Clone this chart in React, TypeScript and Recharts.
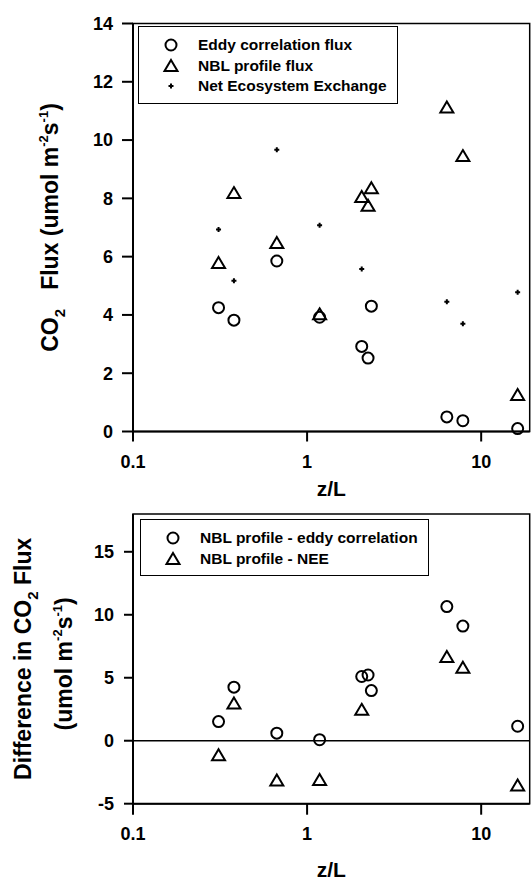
import React from "react";
import {
  ScatterChart,
  Scatter,
  XAxis,
  YAxis,
  ReferenceArea,
  ReferenceLine,
  Label,
  Legend,
} from "recharts";

// z/L of each run (shared by the flux series)
const zL = [0.31, 0.38, 0.67, 1.18, 2.06, 2.24, 2.34, 6.35, 7.85, 16.2];
const eddyFlux = [4.25, 3.82, 5.85, 3.92, 2.92, 2.52, 4.3, 0.5, 0.37, 0.1];
const nblFlux = [5.78, 8.18, 6.47, 4.02, 8.05, 7.75, 8.35, 11.12, 9.45, 1.25];

// NEE only exists for some runs
const neeZL = [0.31, 0.38, 0.67, 1.18, 2.06, 6.35, 7.85, 16.2];
const neeFlux = [6.93, 5.17, 9.67, 7.08, 5.58, 4.45, 3.7, 4.78];

// differences (bottom panel)
const diffEddy = [1.52, 4.25, 0.6, 0.08, 5.1, 5.22, 3.98, 10.65, 9.1, 1.15];
const diffNee = [-1.15, 2.95, -3.15, -3.12, 2.45, 6.65, 5.8, -3.55];

const xTicks = [0.1, 1, 10];
const fluxTicks = [0, 2, 4, 6, 8, 10, 12, 14];
const diffTicks = [-5, 0, 5, 10, 15];

const FONT = "'Liberation Sans', Arial, Helvetica, sans-serif";

const toPts = (xs: number[], ys: number[]) => xs.map((x, i) => ({ x, y: ys[i] }));

const eddyData = toPts(zL, eddyFlux);
const nblData = toPts(zL, nblFlux);
const neeData = toPts(neeZL, neeFlux);
const diffEddyData = toPts(zL, diffEddy);
const diffNeeData = toPts(neeZL, diffNee);

/* marker shapes */
// eslint-disable-next-line @typescript-eslint/no-explicit-any
function OpenCircle({ cx, cy }: any) {
  return <circle cx={cx} cy={cy} r={5.5} fill="none" stroke="#000" strokeWidth={2} />;
}
// eslint-disable-next-line @typescript-eslint/no-explicit-any
function OpenTriangle({ cx, cy }: any) {
  return (
    <path
      d={`M${cx},${cy - 6} L${cx + 6.5},${cy + 5} L${cx - 6.5},${cy + 5} Z`}
      fill="none"
      stroke="#000"
      strokeWidth={2}
    />
  );
}
// eslint-disable-next-line @typescript-eslint/no-explicit-any
function SmallPlus({ cx, cy }: any) {
  return (
    <path
      d={`M${cx - 2.5},${cy} L${cx + 2.5},${cy} M${cx},${cy - 2.5} L${cx},${cy + 2.5}`}
      stroke="#000"
      strokeWidth={2}
    />
  );
}

const markers: Record<string, (p: { cx: number; cy: number }) => React.ReactElement> = {
  circle: OpenCircle,
  triangle: OpenTriangle,
  plus: SmallPlus,
};

function BoxLegend({ items, rowGap }: { items: { name: string; mark: string }[]; rowGap: number }) {
  return (
    <div
      style={{
        border: "1.5px solid #000",
        padding: "8px 10px 6px 22px",
        fontFamily: FONT,
        fontWeight: "bold",
        fontSize: 15.5,
        color: "#000",
        background: "#fff",
      }}
    >
      {items.map((it) => {
        const M = markers[it.mark];
        return (
          <div key={it.name} style={{ display: "flex", alignItems: "center", height: rowGap }}>
            <svg width={20} height={16} style={{ marginRight: 17 }}>
              <M cx={10} cy={8} />
            </svg>
            <span style={{ whiteSpace: "nowrap" }}>{it.name}</span>
          </div>
        );
      })}
    </div>
  );
}

const tickStyle = { fill: "#000", fontSize: 18, fontWeight: "bold", fontFamily: FONT };

// eslint-disable-next-line @typescript-eslint/no-explicit-any
function XTitle({ viewBox, dy }: any) {
  const cx = viewBox.x + viewBox.width / 2;
  return (
    <text x={cx} y={viewBox.y + dy} textAnchor="middle" fontFamily={FONT} fontWeight="bold" fontSize={21} fill="#000">
      z/L
    </text>
  );
}

// eslint-disable-next-line @typescript-eslint/no-explicit-any
function FluxTitle({ viewBox }: any) {
  const cy = viewBox.y + viewBox.height / 2;
  const x = 58;
  return (
    <text
      x={x}
      y={cy}
      transform={`rotate(-90, ${x}, ${cy})`}
      textAnchor="middle"
      fontFamily={FONT}
      fontWeight="bold"
      fontSize={23}
      fill="#000"
      style={{ whiteSpace: "pre" }}
    >
      CO
      <tspan fontSize={15} dy={7}>2</tspan>
      <tspan dy={-7}>{"   Flux (umol m"}</tspan>
      <tspan fontSize={13} dy={-10}>-2</tspan>
      <tspan dy={10}>s</tspan>
      <tspan fontSize={13} dy={-10}>-1</tspan>
      <tspan dy={10}>)</tspan>
    </text>
  );
}

// eslint-disable-next-line @typescript-eslint/no-explicit-any
function DiffTitle({ viewBox }: any) {
  const cy = viewBox.y + viewBox.height / 2;
  const x1 = 31;
  const x2 = 72;
  return (
    <g fontFamily={FONT} fontWeight="bold" fontSize={23} fill="#000" style={{ whiteSpace: "pre" }}>
      <text x={x1} y={cy} transform={`rotate(-90, ${x1}, ${cy})`} textAnchor="middle">
        Difference in CO
        <tspan fontSize={15} dy={7}>2</tspan>
        <tspan dy={-7}>{"   Flux"}</tspan>
      </text>
      <text x={x2} y={cy + 5} transform={`rotate(-90, ${x2}, ${cy + 5})`} textAnchor="middle">
        (umol m
        <tspan fontSize={13} dy={-10}>-2</tspan>
        <tspan dy={10}>s</tspan>
        <tspan fontSize={13} dy={-10}>-1</tspan>
        <tspan dy={10}>)</tspan>
      </text>
    </g>
  );
}

export default function App() {
  return (
    <div style={{ position: "absolute", left: 0, top: 0, width: 532, height: 881, background: "#fff" }}>
      {/* top panel: fluxes */}
      <div style={{ position: "absolute", left: 0, top: 0 }}>
        <ScatterChart width={532} height={505} margin={{ top: 23.5, right: 2.3, bottom: 0, left: 0 }}>
          <XAxis
            dataKey="x"
            type="number"
            scale="log"
            domain={[0.1, 19]}
            allowDataOverflow
            ticks={xTicks}
            tickFormatter={(v) => String(v)}
            height={73.5}
            tickSize={10}
            tickMargin={14}
            tick={tickStyle}
            axisLine={{ stroke: "#000", strokeWidth: 2 }}
            tickLine={{ stroke: "#000", strokeWidth: 2 }}
          >
            <Label content={<XTitle dy={64} />} />
          </XAxis>
          <YAxis
            dataKey="y"
            type="number"
            domain={[0, 14]}
            ticks={fluxTicks}
            width={133}
            tickSize={11}
            tickMargin={9}
            tick={tickStyle}
            axisLine={{ stroke: "#000", strokeWidth: 2 }}
            tickLine={{ stroke: "#000", strokeWidth: 2 }}
          >
            <Label content={<FluxTitle />} />
          </YAxis>
          <ReferenceArea x1={0.1} x2={19} y1={0} y2={14} fill="none" stroke="#000" strokeWidth={1.5} />
          <Legend
            layout="vertical"
            align="center"
            verticalAlign="middle"
            wrapperStyle={{ left: 138, top: 26, width: "auto", height: "auto" }}
            content={() => (
              <BoxLegend
                rowGap={20.5}
                items={[
                  { name: "Eddy correlation flux", mark: "circle" },
                  { name: "NBL profile flux", mark: "triangle" },
                  { name: "Net Ecosystem Exchange", mark: "plus" },
                ]}
              />
            )}
          />
          <Scatter name="Eddy correlation flux" data={eddyData} shape={OpenCircle} isAnimationActive={false} />
          <Scatter name="NBL profile flux" data={nblData} shape={OpenTriangle} isAnimationActive={false} />
          <Scatter name="Net Ecosystem Exchange" data={neeData} shape={SmallPlus} isAnimationActive={false} />
        </ScatterChart>
      </div>

      {/* bottom panel: differences */}
      <div style={{ position: "absolute", left: 0, top: 505 }}>
        <ScatterChart width={532} height={376} margin={{ top: 9, right: 2.3, bottom: 0, left: 0 }}>
          <XAxis
            dataKey="x"
            type="number"
            scale="log"
            domain={[0.1, 19]}
            allowDataOverflow
            ticks={xTicks}
            tickFormatter={(v) => String(v)}
            height={77.3}
            tickSize={11}
            tickMargin={13}
            tick={tickStyle}
            axisLine={{ stroke: "#000", strokeWidth: 2 }}
            tickLine={{ stroke: "#000", strokeWidth: 2 }}
          >
            <Label content={<XTitle dy={73} />} />
          </XAxis>
          <YAxis
            dataKey="y"
            type="number"
            domain={[-5, 18]}
            ticks={diffTicks}
            width={133}
            tickSize={9}
            tickMargin={10}
            tick={tickStyle}
            axisLine={{ stroke: "#000", strokeWidth: 2 }}
            tickLine={{ stroke: "#000", strokeWidth: 2 }}
          >
            <Label content={<DiffTitle />} />
          </YAxis>
          <ReferenceArea x1={0.1} x2={19} y1={-5} y2={18} fill="none" stroke="#000" strokeWidth={1.5} />
          <ReferenceLine y={0} stroke="#000" strokeWidth={1.5} />
          <Legend
            layout="vertical"
            align="center"
            verticalAlign="middle"
            wrapperStyle={{ left: 140, top: 14, width: "auto", height: "auto" }}
            content={() => (
              <BoxLegend
                rowGap={20.5}
                items={[
                  { name: "NBL profile - eddy correlation", mark: "circle" },
                  { name: "NBL profile - NEE", mark: "triangle" },
                ]}
              />
            )}
          />
          <Scatter name="NBL profile - eddy correlation" data={diffEddyData} shape={OpenCircle} isAnimationActive={false} />
          <Scatter name="NBL profile - NEE" data={diffNeeData} shape={OpenTriangle} isAnimationActive={false} />
        </ScatterChart>
      </div>
    </div>
  );
}
